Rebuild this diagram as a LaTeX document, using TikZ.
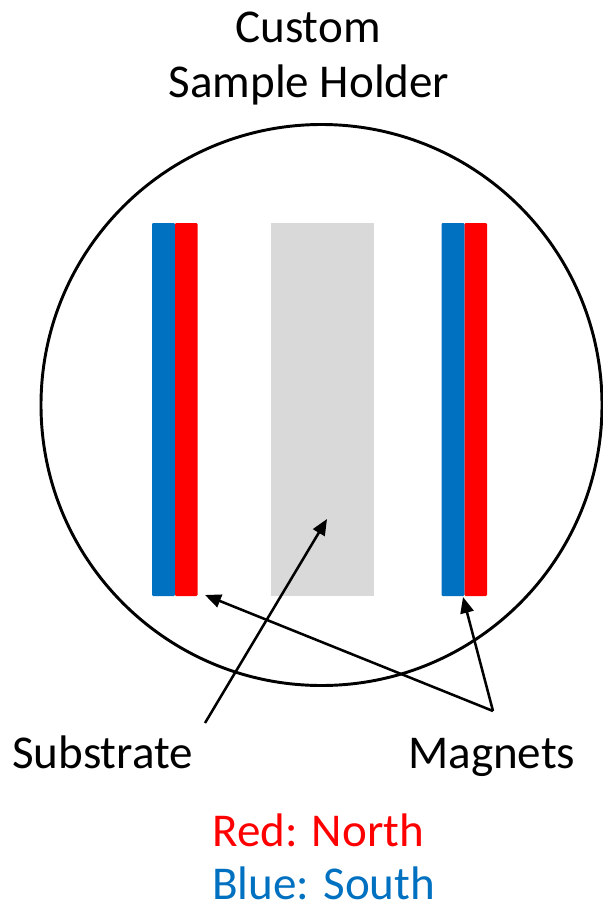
\documentclass[tikz,border=0pt]{standalone}
\usepackage{fontspec}
\setmainfont{Carlito}
\usetikzlibrary{arrows.meta}
\definecolor{magblue}{HTML}{0070C0}
\definecolor{magred}{HTML}{FF0000}
\definecolor{subgray}{HTML}{D9D9D9}
\tikzset{
  lbl/.style={inner sep=0pt, font=\fontsize{35.3pt}{42pt}\selectfont},
  arr/.style={line width=1.9pt, -{Triangle[length=12pt,width=10pt]}},
  bluebar/.style={fill=magblue, rounded corners=0.8pt},
  redbar/.style={fill=magred, rounded corners=0.8pt},
}
\begin{document}
\begin{tikzpicture}[x=0.75pt,y=-0.75pt]
\useasboundingbox (0,0) rectangle (603,907);
% holder
\draw[line width=2.2pt] (321.5,405) circle[radius=280.5*0.75pt];
% magnets
\fill[bluebar] (152,223) rectangle (175,596);
\fill[redbar] (175,223) rectangle (197.5,596);
\fill[bluebar] (441.5,223) rectangle (464.5,596);
\fill[redbar] (464.5,223) rectangle (487,596);
% substrate
\fill[subgray] (271,223) rectangle (374,596);
% labels
\node[lbl, anchor=base] (t1) at (308,42) {Custom};
\node[lbl, anchor=base] (t2) at (309,97) {Sample Holder};
\node[lbl, anchor=base west] (sub) at (12,768) {Substrate};
\node[lbl, anchor=base west] (mag) at (408,768) {Magnets};
\node[lbl, anchor=base west, text=magred] (north) at (212,846) {Red: North};
\node[lbl, anchor=base west, text=magblue] (south) at (212,899) {Blue: South};
% arrow points
\coordinate (subtail) at (205,723);
\coordinate (subtip) at (327,519);
\coordinate (magtail) at (493,711);
\coordinate (magtipL) at (205,595);
\coordinate (magtipR) at (463,597);
\draw[arr] (subtail) -- (subtip);
\draw[arr] (magtail) -- (magtipL);
\draw[arr] (magtail) -- (magtipR);
\end{tikzpicture}
\end{document}
